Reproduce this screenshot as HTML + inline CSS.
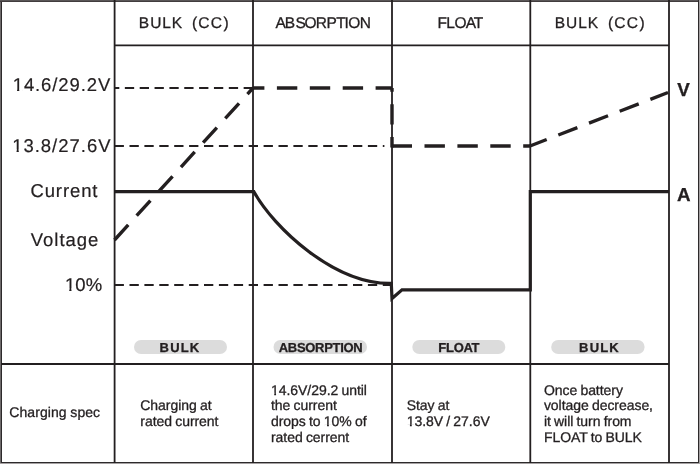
<!DOCTYPE html>
<html><head><meta charset="utf-8">
<style>
html,body{margin:0;padding:0;background:#fff;}
body{width:700px;height:464px;overflow:hidden;}
svg{display:block;will-change:transform;}
text{font-family:"Liberation Sans",Arial,sans-serif;fill:#231f20;text-rendering:geometricPrecision;stroke:#231f20;stroke-width:0.3px;}
.h{font-size:15.5px;}
.lab{font-size:18.5px;stroke-width:0.2px;}
.b{font-weight:bold;font-size:18.8px;}
.p{font-weight:bold;font-size:13px;}
.t{font-size:14px;letter-spacing:-0.05px;word-spacing:-0.6px;}
</style></head><body>
<svg width="700" height="464" viewBox="0 0 700 464">
<rect width="700" height="464" fill="#fff"/>
<!-- outer border -->
<rect x="0" y="0" width="1" height="464" fill="#6e6a6b"/>
<rect x="1" y="0" width="1" height="463" fill="#2d2a2b"/>
<rect x="0" y="0" width="700" height="1" fill="#5a5657"/>
<rect x="0" y="1" width="699" height="1" fill="#423d3e"/>
<rect x="698" y="0" width="1" height="463" fill="#2d2a2b"/>
<rect x="699" y="0" width="1" height="464" fill="#a5a1a2"/>
<rect x="1" y="462" width="698" height="1" fill="#2d2a2b"/>
<rect x="0" y="463" width="700" height="1" fill="#a5a1a2"/>
<!-- grid -->
<g stroke="#231f20" stroke-width="1.8" fill="none">
<line x1="114.6" y1="0" x2="114.6" y2="463"/>
<line x1="253" y1="0" x2="253" y2="463"/>
<line x1="392" y1="0" x2="392" y2="463"/>
<line x1="530.3" y1="0" x2="530.3" y2="463"/>
<line x1="669" y1="0" x2="669" y2="463"/>
<line x1="114.6" y1="45.3" x2="669" y2="45.3"/>
<line x1="1" y1="364" x2="669" y2="364"/>
</g>
<!-- thin dashed reference lines -->
<g stroke="#231f20" stroke-width="1.9" fill="none">
<line x1="115" y1="88" x2="253" y2="88" stroke-dasharray="9.3 5.55" stroke-dashoffset="5"/>
<line x1="114" y1="146" x2="384.4" y2="146" stroke-dasharray="9.3 5.6" stroke-dashoffset="-0.6"/>
<line x1="114" y1="285" x2="392" y2="285" stroke-dasharray="9.3 5.6" stroke-dashoffset="-0.6"/>
</g>
<!-- voltage (thick dashed) -->
<g stroke="#231f20" stroke-width="3.4" fill="none" stroke-dasharray="20.4 12.5">
<line x1="114.5" y1="240" x2="253" y2="88"/>
<line x1="253" y1="88" x2="392" y2="88" stroke-dashoffset="9"/>
<line x1="392" y1="88" x2="392" y2="147.5" stroke-dashoffset="16.7"/>
<line x1="391.6" y1="146" x2="530" y2="146"/>
<line x1="530" y1="146" x2="668" y2="92.5" stroke-dashoffset="2.5"/>
</g>
<!-- current (solid) -->
<path d="M114.6 191.7 H253.9 C273.7 227.7 334.4 284.6 391.3 283.4 L392 298.5 L402 289.8 H530.3 V191.7 H669" stroke="#231f20" stroke-width="3.2" fill="none" stroke-linejoin="miter"/>
<!-- header text -->
<text class="h" x="138.83 150.2 162.13 171.63" y="27.8">BULK</text><text class="h" x="192.04 198.31 210.71 223.61" y="27.8">(CC)</text>
<text class="h" x="275.57 284.63 295.5 304.57 315.83 326.43 336.15 344.57 348.27 359.63" y="27.8">ABSORPTION</text>
<text class="h" x="437.53 446.13 454.47 465.67 473.75" y="27.8">FLOAT</text>
<text class="h" x="554.63 566.1 578.13 587.63" y="27.9">BULK</text><text class="h" x="608.04 614.31 626.71 639.61" y="27.9">(CC)</text>
<!-- left labels -->
<text class="lab" x="12.7" y="91.2" letter-spacing="0.9">14.6/29.2V</text>
<text class="lab" x="12.2" y="151.6" letter-spacing="0.98">13.8/27.6V</text>
<text class="lab" x="30.4" y="196.6" letter-spacing="0.9">Current</text>
<text class="lab" x="30.7" y="245.5" letter-spacing="1">Voltage</text>
<text class="lab" x="64.9" y="290.6" letter-spacing="0.1">10%</text>
<text class="b" x="677.3" y="96.2">V</text>
<text class="b" x="676.9" y="200.6">A</text>
<!-- pills -->
<rect x="134" y="340" width="93" height="14" rx="7" fill="#dcdcdc"/>
<rect x="273.5" y="340" width="93.5" height="14" rx="7" fill="#dcdcdc"/>
<rect x="412.3" y="340" width="93" height="14" rx="7" fill="#dcdcdc"/>
<rect x="551.2" y="340" width="93.4" height="14" rx="7" fill="#dcdcdc"/>
<text class="p" x="180" y="352.3" text-anchor="middle" letter-spacing="1.2">BULK</text>
<text class="p" x="320.6" y="352.3" text-anchor="middle" letter-spacing="-0.3">ABSORPTION</text>
<text class="p" x="458.8" y="352.3" text-anchor="middle" letter-spacing="-0.3">FLOAT</text>
<text class="p" x="599.5" y="352.3" text-anchor="middle" letter-spacing="1.2">BULK</text>
<!-- bottom row -->
<text class="t" x="9.3" y="416.5" style="letter-spacing:0.06px;word-spacing:-0.2px">Charging spec</text>
<text class="t"><tspan x="140.3" y="410.3">Charging at</tspan><tspan x="140.3" y="426.1">rated current</tspan></text>
<text class="t"><tspan x="271" y="394.6">14.6V/29.2 until</tspan><tspan x="271" y="410.3">the current</tspan><tspan x="271" y="426.2">drops to 10% of</tspan><tspan x="271" y="442.2">rated cerrent</tspan></text>
<text class="t"><tspan x="406.7" y="410.3">Stay at</tspan><tspan x="406.7" y="426.3">13.8V / 27.6V</tspan></text>
<text class="t"><tspan x="543.9" y="394.7">Once battery</tspan><tspan x="543.9" y="410.3">voltage decrease,</tspan><tspan x="543.9" y="426.2">it will turn from</tspan><tspan x="543.9" y="442.3">FLOAT to BULK</tspan></text>
<!-- feet -->
<g fill="#fff"><rect x="13.31" y="88.92" width="3.74" height="3.78"/><rect x="19.29" y="88.92" width="3.60" height="3.78"/><rect x="12.81" y="149.32" width="3.74" height="3.78"/><rect x="18.79" y="149.32" width="3.60" height="3.78"/><rect x="65.51" y="288.32" width="3.74" height="3.78"/><rect x="71.49" y="288.32" width="3.60" height="3.78"/><rect x="271.27" y="392.65" width="2.95" height="3.45"/><rect x="276.06" y="392.65" width="2.84" height="3.45"/><rect x="324.08" y="424.25" width="2.95" height="3.45"/><rect x="328.87" y="424.25" width="2.84" height="3.45"/><rect x="406.97" y="424.35" width="2.95" height="3.45"/><rect x="411.76" y="424.35" width="2.84" height="3.45"/></g>
</svg>
</body></html>
